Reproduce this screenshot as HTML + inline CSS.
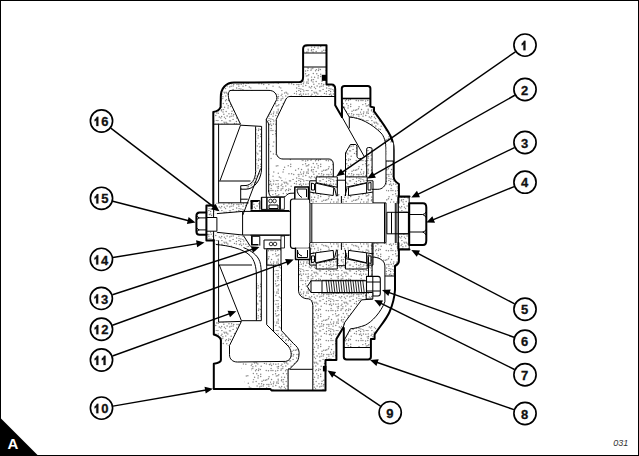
<!DOCTYPE html>
<html><head><meta charset="utf-8"><style>
html,body{margin:0;padding:0;background:#fff;}
body{width:639px;height:456px;overflow:hidden;}
svg{display:block;}
.ld{stroke:#000;stroke-width:1.45;fill:none;}
.ah{fill:#000;stroke:none;}
.cc{fill:#fff;stroke:#000;stroke-width:1.65;}
.ct{font-family:"Liberation Sans",sans-serif;font-weight:bold;font-size:13px;fill:#111;stroke:#111;stroke-width:0.3;}
.one{fill:#111;stroke:#111;stroke-width:0.2;}
.o{fill:none;stroke:#000;stroke-width:2;stroke-linejoin:round;stroke-linecap:round;}
.t{fill:none;stroke:#000;stroke-width:1;stroke-linejoin:round;}
.s{fill:url(#dots);stroke:none;}
.sl{fill:url(#dotsl);stroke:none;}
.w{fill:#fff;stroke:none;}
.b{fill:#000;stroke:none;}
.wt{fill:#fff;stroke:#000;stroke-width:1;stroke-linejoin:round;}
</style></head><body>
<svg width="639" height="456" viewBox="0 0 639 456">
<defs>
<pattern id="dots" width="30" height="30" patternUnits="userSpaceOnUse"><rect width="30" height="30" fill="#fff"/><g fill="#828282"><circle cx="0.59" cy="1.54" r="0.72"/><circle cx="3.82" cy="0.99" r="0.72"/><circle cx="6.26" cy="0.37" r="0.72"/><circle cx="7.93" cy="0.47" r="0.72"/><circle cx="11.87" cy="0.54" r="0.72"/><circle cx="13.99" cy="2.10" r="0.72"/><circle cx="16.05" cy="2.15" r="0.72"/><circle cx="19.43" cy="0.85" r="0.72"/><circle cx="20.52" cy="0.89" r="0.72"/><circle cx="26.41" cy="1.51" r="0.72"/><circle cx="28.84" cy="0.42" r="0.72"/><circle cx="0.69" cy="4.09" r="0.72"/><circle cx="3.40" cy="3.91" r="0.72"/><circle cx="5.87" cy="4.31" r="0.72"/><circle cx="8.26" cy="3.89" r="0.72"/><circle cx="11.96" cy="4.19" r="0.72"/><circle cx="14.66" cy="3.02" r="0.72"/><circle cx="16.74" cy="3.09" r="0.72"/><circle cx="17.87" cy="4.07" r="0.72"/><circle cx="24.46" cy="3.40" r="0.72"/><circle cx="26.43" cy="3.90" r="0.72"/><circle cx="29.40" cy="4.59" r="0.72"/><circle cx="1.56" cy="5.42" r="0.72"/><circle cx="7.19" cy="6.86" r="0.72"/><circle cx="8.53" cy="6.57" r="0.72"/><circle cx="11.18" cy="5.62" r="0.72"/><circle cx="12.91" cy="6.76" r="0.72"/><circle cx="15.77" cy="6.04" r="0.72"/><circle cx="21.15" cy="6.34" r="0.72"/><circle cx="1.09" cy="8.48" r="0.72"/><circle cx="8.13" cy="8.24" r="0.72"/><circle cx="11.22" cy="8.92" r="0.72"/><circle cx="12.81" cy="8.60" r="0.72"/><circle cx="16.38" cy="9.61" r="0.72"/><circle cx="18.78" cy="8.97" r="0.72"/><circle cx="20.40" cy="9.51" r="0.72"/><circle cx="1.06" cy="10.50" r="0.72"/><circle cx="2.92" cy="10.43" r="0.72"/><circle cx="5.61" cy="10.95" r="0.72"/><circle cx="7.80" cy="10.59" r="0.72"/><circle cx="10.99" cy="10.35" r="0.72"/><circle cx="15.58" cy="10.78" r="0.72"/><circle cx="18.49" cy="10.53" r="0.72"/><circle cx="26.22" cy="10.46" r="0.72"/><circle cx="28.45" cy="10.80" r="0.72"/><circle cx="2.84" cy="14.61" r="0.72"/><circle cx="5.58" cy="13.83" r="0.72"/><circle cx="8.80" cy="14.66" r="0.72"/><circle cx="13.30" cy="13.50" r="0.72"/><circle cx="16.77" cy="13.81" r="0.72"/><circle cx="20.72" cy="14.34" r="0.72"/><circle cx="6.28" cy="15.98" r="0.72"/><circle cx="7.85" cy="15.83" r="0.72"/><circle cx="11.62" cy="17.12" r="0.72"/><circle cx="14.58" cy="17.18" r="0.72"/><circle cx="18.22" cy="15.73" r="0.72"/><circle cx="20.69" cy="16.49" r="0.72"/><circle cx="29.04" cy="16.82" r="0.72"/><circle cx="1.56" cy="19.53" r="0.72"/><circle cx="8.14" cy="19.30" r="0.72"/><circle cx="11.82" cy="19.65" r="0.72"/><circle cx="13.56" cy="19.60" r="0.72"/><circle cx="18.04" cy="18.09" r="0.72"/><circle cx="26.87" cy="19.66" r="0.72"/><circle cx="28.47" cy="18.84" r="0.72"/><circle cx="0.33" cy="22.14" r="0.72"/><circle cx="3.80" cy="22.07" r="0.72"/><circle cx="6.96" cy="21.87" r="0.72"/><circle cx="8.28" cy="20.86" r="0.72"/><circle cx="11.41" cy="20.79" r="0.72"/><circle cx="13.05" cy="22.03" r="0.72"/><circle cx="16.17" cy="21.41" r="0.72"/><circle cx="22.04" cy="21.25" r="0.72"/><circle cx="23.79" cy="20.34" r="0.72"/><circle cx="25.65" cy="20.31" r="0.72"/><circle cx="1.20" cy="24.18" r="0.72"/><circle cx="3.42" cy="23.78" r="0.72"/><circle cx="6.79" cy="23.00" r="0.72"/><circle cx="8.27" cy="23.33" r="0.72"/><circle cx="13.87" cy="24.24" r="0.72"/><circle cx="18.96" cy="23.76" r="0.72"/><circle cx="21.62" cy="23.66" r="0.72"/><circle cx="23.71" cy="24.59" r="0.72"/><circle cx="26.97" cy="24.59" r="0.72"/><circle cx="28.86" cy="24.59" r="0.72"/><circle cx="3.03" cy="26.14" r="0.72"/><circle cx="5.76" cy="25.44" r="0.72"/><circle cx="9.29" cy="27.00" r="0.72"/><circle cx="11.66" cy="26.55" r="0.72"/><circle cx="14.48" cy="27.14" r="0.72"/><circle cx="17.11" cy="26.06" r="0.72"/><circle cx="19.68" cy="26.88" r="0.72"/><circle cx="21.12" cy="26.28" r="0.72"/><circle cx="23.17" cy="25.91" r="0.72"/><circle cx="28.85" cy="26.14" r="0.72"/><circle cx="0.93" cy="28.99" r="0.72"/><circle cx="2.92" cy="29.67" r="0.72"/><circle cx="10.80" cy="27.88" r="0.72"/><circle cx="15.55" cy="28.60" r="0.72"/><circle cx="23.08" cy="29.55" r="0.72"/><circle cx="26.63" cy="27.97" r="0.72"/><circle cx="29.11" cy="28.61" r="0.72"/></g></pattern><pattern id="dotsl" width="30" height="30" patternUnits="userSpaceOnUse"><rect width="30" height="30" fill="#fff"/><g fill="#888"><circle cx="0.59" cy="1.54" r="0.72"/><circle cx="11.87" cy="0.54" r="0.72"/><circle cx="16.05" cy="2.15" r="0.72"/><circle cx="3.40" cy="3.91" r="0.72"/><circle cx="5.87" cy="4.31" r="0.72"/><circle cx="11.96" cy="4.19" r="0.72"/><circle cx="14.66" cy="3.02" r="0.72"/><circle cx="16.74" cy="3.09" r="0.72"/><circle cx="17.87" cy="4.07" r="0.72"/><circle cx="24.46" cy="3.40" r="0.72"/><circle cx="11.18" cy="5.62" r="0.72"/><circle cx="15.77" cy="6.04" r="0.72"/><circle cx="21.15" cy="6.34" r="0.72"/><circle cx="1.09" cy="8.48" r="0.72"/><circle cx="12.81" cy="8.60" r="0.72"/><circle cx="20.40" cy="9.51" r="0.72"/><circle cx="20.72" cy="14.34" r="0.72"/><circle cx="6.28" cy="15.98" r="0.72"/><circle cx="7.85" cy="15.83" r="0.72"/><circle cx="14.58" cy="17.18" r="0.72"/><circle cx="18.22" cy="15.73" r="0.72"/><circle cx="20.69" cy="16.49" r="0.72"/><circle cx="13.56" cy="19.60" r="0.72"/><circle cx="28.47" cy="18.84" r="0.72"/><circle cx="3.80" cy="22.07" r="0.72"/><circle cx="13.05" cy="22.03" r="0.72"/><circle cx="25.65" cy="20.31" r="0.72"/><circle cx="8.27" cy="23.33" r="0.72"/><circle cx="18.96" cy="23.76" r="0.72"/><circle cx="21.62" cy="23.66" r="0.72"/><circle cx="23.71" cy="24.59" r="0.72"/><circle cx="28.86" cy="24.59" r="0.72"/><circle cx="3.03" cy="26.14" r="0.72"/><circle cx="9.29" cy="27.00" r="0.72"/><circle cx="10.80" cy="27.88" r="0.72"/><circle cx="26.63" cy="27.97" r="0.72"/></g></pattern>
</defs>
<rect x="0" y="0" width="639" height="456" fill="#fff"/>
<!-- ===== STIPPLE FILLS (upper) ===== -->
<path class="s" d="M213.3,124.2 L213.3,112 C216,111.5 219.5,110.5 220.6,107 L220.8,97 C220.8,88 226,82.7 234,82.6 L299.5,82.1 C302,82 303.1,80 303.1,77 L303.1,67 L326.5,67 L326.5,84.5 L331.5,84.5 C334,84.5 335.2,86 335.2,89 L335.2,96.5 L290,96.5 C288,96.5 287,97.5 286,99 L276.3,119.3 L276.3,152 C276.3,156 279,159 283,159 L329,159 C331.5,159 333.3,161 333.3,164 L333.3,177 L315.6,177 L315.6,180.6 L308.8,180.6 L308.8,187.5 L295,187.5 L295,193.1 L289,193.1 C286,193.1 285,196.9 283.8,196.9 L271.3,196.9 C269,196.9 268.7,194 268.7,192 L268.7,125 C268.7,122 266.3,121 266.3,119.3 L276.7,99.5 C277.5,94 274,90.4 269,90.4 L231,90.4 C228,90.4 227.5,96 229.5,101 L240.5,124.2 Z"/>
<path class="s" d="M303.1,53 L303.1,49 C303.1,46.5 304.5,45.2 307,45.2 L326.5,45.2 L326.5,53 Z"/>
<path class="s" d="M256.5,126.4 L261.6,126.4 L261.6,168 C261.6,180 254,189.2 246,189.2 L240.7,189.2 L240.7,185.7 L246,185.5 C252,185 256.5,178 256.5,170 Z"/>
<path class="s" d="M213.6,202.8 L248.5,202.8 L243.5,212 L216.9,213.6 L213.6,213.6 Z"/>
<path class="s" d="M341.8,98.5 L370.4,98.5 L370.4,106.6 L374,107.5 L374,111.3 C379,118 386.5,128 390.5,136 C392.5,140 393.7,145 393.7,150 L393.7,176.8 Q393.7,181 398.9,184 L398.9,203 L386,203 L386,150 C386,142 384,136 381,133 C372,124 360,117.5 349.3,117.1 L342.7,106.6 L341.8,106 Z"/>
<path class="s" d="M345.5,177 L345.5,153 L350.4,144.5 L355.8,144.5 L357,146 L357,156.6 C357.5,158.5 359,159 361,158.5 L363.6,156 L366.7,160 L366.7,177 Z"/>
<path class="s" d="M366.7,177 L366.7,149 Q366.7,147.5 368.5,147.5 L370.3,147.5 Q372.1,147.5 372.1,149 L372.1,177 Z"/>
<!-- upper bearing cups & cones -->
<path class="s" d="M315.6,177 L337.6,177 L337.6,186 L315.6,181 Z"/>
<path class="s" d="M345.4,177 L367.3,177 L367.3,181 L345.4,186 Z"/>
<path class="s" d="M309.4,194 L372,194 L372,202.9 L309.4,202.9 Z"/>
<!-- washers -->
<path class="s" d="M206.4,205.4 L213.6,205.4 L213.6,217.5 L206.4,217.5 Z M206.4,231.2 L213.6,231.2 L213.6,240.5 L206.4,240.5 Z"/>
<path class="s" d="M398.4,196.9 L409.2,196.9 L409.2,212.3 L398.4,212.3 Z M398.4,233.8 L409.2,233.8 L409.2,249.1 L398.4,249.1 Z"/>

<path class="sl" d="M248,83.2 L296,83.2 L296,96.2 L286.5,98.5 L276,92.5 C274,91 271.5,90.4 269,90.4 L248,90.4 Z"/>
<path class="sl" d="M268.7,135 L276.3,135 L276.3,152 C276.3,156 279,159 283,159 L302,159 C300,166 299,172 296,178 L268.7,180 Z"/>
<!-- ===== STIPPLE FILLS (lower) ===== -->
<path class="s" d="M213.6,233.6 L243.5,235.7 L250.5,246.5 C244,248.5 236,248 228,246.2 C224,245.4 220,244.7 216,244.5 L213.6,244.5 Z"/>
<path class="s" d="M256.4,320.7 L261.3,320.7 L261.3,282 L256.4,282 Z"/>
<path class="s" d="M266.8,248.8 L281,248.8 L281,265.2 L266.8,265.2 Z"/>
<path class="sl" d="M240,362 L250,362 C251,370 254,380 257,389.7 L246,389.5 C244,380 242,370 240,362 Z"/>
<path class="s" d="M213.8,322.1 L241.4,321.4 L229.5,345.5 L220.9,345.5 L220.9,340.3 C220.9,337 216,335 213.8,334.5 Z"/>
<path class="s" d="M250,362 L285.7,361.4 C289,361 291.2,358 291.2,354.8 C291.2,351.5 290.3,349 288.9,346.9 L273.4,331 L273.4,265.2 L281.5,265.2 L281.5,330.6 L293.6,343.7 C296.5,346 299.1,349 299.1,352.5 C299.1,356 298.5,359 297.5,361 L289.6,369 L288.1,369 L288.1,390.5 L257,389.7 C254,380 251,370 250,362 Z"/>
<path class="s" d="M298.5,259.7 L298.5,290 C298.5,295 302,298.8 308.4,298.8 C311,299 312.8,302 312.8,305.4 L312.8,390.5 L325.5,390.5 L325.5,360 L336.4,360 L336.4,339 L343,328 L344.8,322.3 L361.6,299.9 L366.2,299 L366.2,292.5 L372.8,292.5 L372.8,257.1 L372,252 L310,252 L310,259.7 Z"/>
<path class="s" d="M372.8,257.1 C378,257.1 384.9,260 384.9,266 L384.9,276 L395,276 L395,266 Q398.9,264 398.9,261 L398.9,243 L372,243 Z"/>
<path class="s" d="M350.4,328.8 L343.8,341 L343.8,347.5 L370.9,347.5 L370.9,339.1 L374.6,339.1 L374.6,334.4 C376,332 377,330 378,328 C372,324 365,326 350.4,328.8 Z"/>
<!-- ===== HEAVY OUTLINES ===== -->
<path class="o" d="M213.3,206 L213.3,112 C216,111.5 219.5,110.5 220.6,107 L220.8,97 C220.8,88 226,82.7 234,82.6 L299.5,82.1 C302,82 303.1,80 303.1,77 L303.1,49 C303.1,46.5 304.5,45.2 307,45.2 L326.5,45.2 L326.5,84.5 L331.5,84.5 C334,84.5 335.2,86 335.2,89 L335.2,105.3 L342,117"/>
<path class="o" d="M342,117 L341.8,88.5 Q341.8,85.9 344.5,85.9 L367.8,85.9 Q370.4,85.9 370.4,88.5 L370.4,106.6 L374,107.5 L374,111.3 C379,118 386.5,128 390.5,136 C392.5,140 393.7,145 393.7,150 L393.7,176.8 Q393.7,181 398.9,184 L398.9,196.6 L409.5,196.6"/>
<path class="o" d="M213.8,240 L213.8,334.5 C216,335 220.9,337 220.9,340.3 L220.9,360 C220.9,362 217,363.3 213.8,363.8 L213.8,389 L270.3,389 L271.5,390.5 L325.5,390.5 L325.5,360 L336.4,360 L336.4,339 L343,328"/>
<path class="o" d="M343.8,328 L343.8,356.8 Q343.8,359.6 346.6,359.6 L368.1,359.6 Q370.9,359.6 370.9,356.8 L370.9,339.1 L374.6,339.1 L374.6,334.4 C380,326 386,320 389.5,312 C392.5,305 394.5,298 395,290 L395,266 Q398.9,264 398.9,261 L398.9,249.6 L409.5,249.6"/>
<rect x="321.8" y="74.8" width="4.4" height="6" class="b"/>
<rect x="322.9" y="365.9" width="3.5" height="5.5" class="b"/>
<!-- ===== THIN LINES upper-left housing ===== -->
<path class="t" d="M231,90.4 L269,90.4 C274,90.4 277.5,94 276.7,99.5 L266.3,119.3 L266.3,197"/>
<path class="t" d="M231,90.4 C228,90.4 227.5,96 229.5,101 L240.5,124.2 L213.3,124.2"/>
<path class="t" d="M240.5,125.2 L261.6,126.4 M240.5,125.2 L220,180.7 M218.6,124.2 L218.6,202.8 M218.6,181 L250.5,181"/>
<path class="t" d="M255.6,126.4 L255.6,171.4 C255.6,180 251,185 246,185.5 L240.7,185.7 L240.7,202.8 M240.7,189.2 L246,189.2 C254,189.2 261.6,180 261.6,168 L261.6,126.4"/>
<path class="t" d="M240.7,199.2 L247.8,199.2 M218.6,202.8 L248.5,202.8 M260.6,168.5 L242.8,215"/>
<path class="t" d="M268.7,192 L268.7,125 C268.7,122 266.3,121 266.3,119.3"/>
<path class="t" d="M335.2,96.5 L290,96.5 C288,96.5 287,97.5 286,99 L276.3,119.3 L276.3,152 C276.3,156 279,159 283,159 L329,159 C331.5,159 333.3,161 333.3,164 L333.3,177"/>
<path class="t" d="M303.1,53 L326.5,53 M303.1,67 L326.5,67"/>
<!-- upper right housing -->
<path class="t" style="stroke-width:1.6" d="M341.8,98.5 L370.4,98.5"/>
<path class="t" d="M342.7,106 L349.3,117.1 L349.3,128.3 M342,117 L364.5,157"/>
<path class="t" d="M349.3,117.1 C360,117.5 372,124 381,133 C384,136 386,142 386,150 L386,181 C386,186 382,189.3 377.9,189.3 L372,189.3"/>
<path class="t" d="M345.5,177 L345.5,153 L350.4,144.5 L355.8,144.5 L357,146 L357,156.6 C357.5,158.5 359,159 361,158.5"/>
<path class="t" d="M366.7,177 L366.7,149 Q366.7,147.5 368.5,147.5 L370.3,147.5 Q372.1,147.5 372.1,149 L372.1,177"/>
<rect x="386.5" y="142.5" width="6.7" height="18.5" class="w"/>
<path class="t" d="M386,161 L393.7,161"/>
<!-- ===== SHAFT / HUB ===== -->
<path class="t" d="M216.9,213.6 L242.6,211.4 L242.6,235 L216.9,232.3 M242.6,211.4 L290.5,211.4 M242.6,235 L290.5,235"/>
<rect x="290.5" y="199" width="19.9" height="49.3" rx="2.5" class="wt" style="stroke-width:1.2"/>
<rect x="310" y="202.9" width="76" height="39.9" class="wt" style="stroke-width:1"/>
<path class="t" d="M311.8,202.9 L311.8,242.8 M384.5,202.9 L384.5,242.8"/>
<rect x="386.9" y="212.3" width="21.5" height="21.5" class="wt" style="stroke-width:1"/>
<path class="t" d="M391.5,212.3 L391.5,233.8 M395.3,203 L395.3,243 M396.9,203 L396.9,243"/>
<path class="o" style="fill:#fff" d="M409.2,203.3 L423,203.3 Q426.3,203.3 426.3,207.5 L426.3,240.5 Q426.3,245 423,245 L409.2,245 Z"/>
<path class="t" d="M409.2,214.5 L422.5,214.5 Q425,214.5 426,212 M422.5,214.5 Q425,215 426,217.5 M409.2,232 L422.5,232 Q425,232 426,229.5 M422.5,232 Q425,232.5 426,235"/>
<path class="o" d="M398.4,196.9 L398.4,203 M398.4,243 L398.4,249.1"/>
<path class="t" d="M398.4,196.9 L409.2,196.9 L409.2,249.1 L398.4,249.1 Z M398.4,212.3 L409.2,212.3 M398.4,233.8 L409.2,233.8"/>
<!-- left nut/washer -->
<path class="o" style="fill:#fff" d="M206.4,212.5 L199.5,212.5 Q196.4,212.5 196.4,216 L196.4,231.3 Q196.4,234.8 199.5,234.8 L206.4,234.8 Z"/>
<path class="t" d="M206.4,217.9 L199.5,217.9 Q197.5,218 196.6,220 M199.5,217.9 Q197.5,217.5 196.6,215.5 M206.4,229.9 L199.5,229.9 Q197.5,230 196.6,232 M199.5,229.9 Q197.5,229.6 196.6,227.6"/>
<path class="o" d="M206.4,205.4 L206.4,212 M206.4,234.5 L206.4,240.5 M213.6,205.4 L206.4,205.4 M213.6,240.5 L206.4,240.5"/>
<path class="t" d="M206.4,217.5 L216.9,217.5 L216.9,231.2 L206.4,231.2 M213.6,205.4 L213.6,217.5 M213.6,231.2 L213.6,240.5"/>
<!-- ===== BEARINGS ===== -->
<g id="brg">
<path class="s" d="M309.7,203 L309.7,192 L315.6,193.1 L333.2,195.5 L341.4,196 L348.5,195.5 L366.6,193.1 L373,192 L373,203 Z"/>
<path class="s" d="M316.2,176.9 L337.3,176.9 L337.3,187.3 L316.2,182.6 Z M345.5,176.9 L367.2,176.9 L367.2,182.6 L345.5,187.3 Z"/>
<path class="t" d="M309.7,203 L309.7,180.8 L316.2,180.8 M367.2,180.8 L373,180.8 L373,203"/>
<path class="t" d="M316.2,176.9 L337.3,176.9 L337.3,187.3 L316.2,182.6 Z M345.5,176.9 L367.2,176.9 L367.2,182.6 L345.5,187.3 Z"/>
<path class="wt" d="M315.6,183.1 L333.8,187.3 L333.2,195.5 L315.6,193.1 Z M348.5,187.3 L366.6,183.1 L366.6,193.1 L348.5,195.5 Z"/>
<path class="t" d="M337.3,180.2 L345.5,180.2 L345.5,196 M337.3,180.2 L337.3,196 M341.4,196 L341.4,203"/>
<path class="t" d="M309.7,192 L315.6,193.1 M366.6,193.1 L373,192"/>
<path class="t" d="M334.5,188 L336.5,196 M347,188 L345,196 M311.5,183 L314.5,184 L314.5,190 L311.5,190 Z M368,183 L371,182.5 L371,190 L368,190 Z"/>
</g>
<use href="#brg" transform="matrix(1,0,0,-1,0,445.9)"/>
<!-- ===== SEALS upper ===== -->
<rect x="294.8" y="187" width="13.7" height="11.4" class="w"/>
<path class="o" style="stroke-width:1.5" d="M294.8,198.4 L294.8,187 L308.5,187 L308.5,198.4"/>
<path class="t" d="M297,189 L306.5,189 L306.5,197 M297,189 C297,193 299,196 302,197.5"/>
<rect x="280" y="197.3" width="4.4" height="12" class="wt" style="stroke-width:0.8"/>
<rect x="266.9" y="197.3" width="13" height="12" class="wt" style="stroke-width:1"/>
<circle cx="270.5" cy="201" r="1.8" class="wt" style="stroke-width:0.8"/>
<circle cx="274.5" cy="201" r="1.8" class="wt" style="stroke-width:0.8"/>
<path class="t" d="M269,205 L278,205 L278,208.5 L269,208.5 Z M261.4,197.3 L266.9,197.3 L266.9,209.4 L261.4,209.4 Z"/>
<path class="s" d="M251,200.5 L259.8,200.5 L259.8,209.6 L251,209.6 Z"/>
<path class="t" d="M251,209.6 L251,200.5 L259.8,200.5 L259.8,209.6"/>
<path class="o" style="stroke-width:1.5" d="M251,201 L256.5,201"/>
<path class="t" d="M268.7,190 C268.7,194.5 270,196.9 272.5,196.9 L284,196.9 C286,196.9 287,193.5 290,193.3 L295,193.1"/>
<path class="t" style="stroke-width:1.3" d="M261.6,197.3 L261.6,209.4 M280,197.3 L280,209.4 M250.5,210.6 L289.3,210.6"/>
<path class="b" d="M251,200.3 L258.5,200.3 L258.5,202 L252.7,202 L252.7,209.6 L251,209.6 Z"/>
<path class="b" d="M251,245.6 L258.5,245.6 L258.5,243.9 L252.7,243.9 L252.7,236.3 L251,236.3 Z"/>
<path class="t" d="M251,236.3 L259.8,236.3 L259.8,245.6 M250.5,235.3 L289.3,235.3"/>
<!-- ===== SEALS lower ===== -->
<rect x="295.5" y="248.3" width="14.5" height="11.2" class="w"/>
<path class="o" style="stroke-width:1.5" d="M295.5,248.3 L295.5,259.5 L310,259.5 L310,248.3"/>
<path class="t" d="M297.5,250 L297.5,257.5 L307.5,257.5 L307.5,250 M297.5,250 C297.5,253 299,255 302,256"/>
<rect x="264" y="240" width="17" height="8.8" class="wt" style="stroke-width:1"/>
<circle cx="271" cy="244" r="1.8" class="wt" style="stroke-width:0.8"/>
<circle cx="275" cy="244" r="1.8" class="wt" style="stroke-width:0.8"/>
<rect x="281" y="236" width="3.5" height="12" class="wt" style="stroke-width:0.8"/>
<path class="t" d="M266.8,248.8 L281,248.8 L281,265.2 L266.8,265.2 Z"/>
<!-- ===== THIN LINES lower ===== -->
<path class="t" d="M218.6,240.5 L218.6,322.1 L241.4,321.4 M218.6,265 L252,265 M219.3,265 L241.4,320.7 L261.3,320.7"/>
<path class="t" d="M241.4,321.4 L229.5,345.5 L229.5,354.7 C229.5,359 232.5,362 237.4,362 L285.7,361.4 C289,361 291.2,358 291.2,354.8 C291.2,351.5 290.3,349 288.9,346.9 L266.7,324.7 L266.7,250"/>
<path class="t" d="M273.4,265.2 L273.4,331 M281.5,265.2 L281.5,330.6 L293.6,343.7 C296.5,346 299.1,349 299.1,352.5 C299.1,356 298.5,359 297.5,361 L289.6,369 L288.1,369 L288.1,390.5 M289.6,369.3 L312.8,369.3"/>

<path class="t" d="M243.5,235.7 L250.5,246.5 M216,244.5 C228,245.5 243,248.5 250,255.5 C254.5,260 256.4,267 256.4,276 L256.4,320.7 M243.5,247.6 C251,250.5 257.5,255 259.8,261.5 C261,265 261.3,270 261.3,275 L261.3,320.7"/>
<path class="t" d="M298.5,259.7 L298.5,290 C298.5,295 302,298.8 308.4,298.8 C311,299 312.8,302 312.8,305.4 L312.8,390.5"/>
<path class="t" d="M343,328 L344.8,322.3 L361.6,299.9 L372.8,299 M343.8,347.5 L370.9,347.5"/>
<path class="t" d="M372.8,257.1 C378,257.1 384.9,260 384.9,266 L384.9,301.8 C381,312 372,322 365.3,325.1 C360,327 355,328.5 350.4,328.8 L343.8,341"/>
<path class="t" d="M384.9,276 L395,276"/>
<!-- bolt -->
<path class="wt" style="stroke-width:1" d="M311,280.8 L366.5,280.8 L366.5,292.5 L311,292.5 L307.3,286.6 Z"/>
<path class="t" d="M311,280.8 L311,292.5 M322,280.8 L322,292.5"/>
<path class="t" style="stroke-width:0.85" d="M326.00,280.3 L327.50,292.8 M328.45,280.3 L329.95,292.8 M330.90,280.3 L332.40,292.8 M333.35,280.3 L334.85,292.8 M335.80,280.3 L337.30,292.8 M338.25,280.3 L339.75,292.8 M340.70,280.3 L342.20,292.8 M343.15,280.3 L344.65,292.8 M345.60,280.3 L347.10,292.8 M348.05,280.3 L349.55,292.8 M350.50,280.3 L352.00,292.8 M352.95,280.3 L354.45,292.8 M355.40,280.3 L356.90,292.8 M357.85,280.3 L359.35,292.8 M360.30,280.3 L361.80,292.8 M362.75,280.3 L364.25,292.8"/>
<path class="t" style="stroke-width:0.8" d="M322,280.3 L365,280.3 M322,293 L365,293"/>
<path class="wt" style="stroke-width:1.1" d="M366.5,276.4 L378,276.4 Q380.3,276.4 380.3,278.8 L380.3,293.6 Q380.3,296 378,296 L366.5,296 Z"/>
<path class="t" d="M372.8,276.4 L372.8,296 M366.5,282 L380,282 M366.5,291 L380,291"/>
<path class="s" d="M366.2,292.5 L372.8,292.5 L372.8,299 L366.2,299 Z"/>
<path class="t" d="M366.2,292.5 L372.8,292.5 L372.8,299 L366.2,299 Z M368.5,257 L368.5,276.4 M372.1,243 L372.1,276.4"/>

<line x1="515.39" y1="51.78" x2="342.05" y2="172.3" class="ld"/>
<path d="M336.3 176.3L340.87 168.86L344.87 174.61Z" class="ah"/>
<circle cx="525" cy="45.1" r="11.1" class="cc"/>
<path class="one" d="M523.39,50.2 L525.49,50.2 L525.49,40.85 L523.89,40.85 C523.49,42.2 522.59,43.1 521.69,43.5 L521.69,45.4 C522.29,45.2 522.89,44.8 523.39,44.3 Z"/>
<line x1="514.81" y1="95.25" x2="373.3" y2="175.16" class="ld"/>
<path d="M367.2 178.6L372.45 171.62L375.89 177.71Z" class="ah"/>
<circle cx="525" cy="89.5" r="11.1" class="cc"/>
<text x="521.04" y="94.6" class="ct">2</text>
<line x1="514.47" y1="147.59" x2="417.6" y2="194.45" class="ld"/>
<path d="M411.3 197.5L416.98 190.87L420.03 197.17Z" class="ah"/>
<circle cx="525" cy="142.5" r="11.1" class="cc"/>
<text x="521.04" y="147.6" class="ct">3</text>
<line x1="514.17" y1="186.62" x2="432.78" y2="219.85" class="ld"/>
<path d="M426.3 222.5L432.38 216.24L435.03 222.72Z" class="ah"/>
<circle cx="525" cy="182.2" r="11.1" class="cc"/>
<text x="521.04" y="187.3" class="ct">4</text>
<line x1="514.63" y1="303.89" x2="417.51" y2="253.24" class="ld"/>
<path d="M411.3 250L420.01 250.6L416.77 256.8Z" class="ah"/>
<circle cx="525" cy="309.3" r="11.1" class="cc"/>
<text x="521.04" y="314.4" class="ct">5</text>
<line x1="513.98" y1="337.26" x2="388.59" y2="292.36" class="ld"/>
<path d="M382 290L390.71 289.4L388.35 295.99Z" class="ah"/>
<circle cx="525" cy="341.2" r="11.1" class="cc"/>
<text x="521.04" y="346.3" class="ct">6</text>
<line x1="514.52" y1="369.5" x2="380.57" y2="303.11" class="ld"/>
<path d="M374.3 300L383.02 300.42L379.91 306.69Z" class="ah"/>
<circle cx="525" cy="374.7" r="11.1" class="cc"/>
<text x="521.04" y="379.8" class="ct">7</text>
<line x1="513.94" y1="409.68" x2="376.62" y2="362.28" class="ld"/>
<path d="M370 360L378.7 359.3L376.42 365.92Z" class="ah"/>
<circle cx="525" cy="413.5" r="11.1" class="cc"/>
<text x="521.04" y="418.6" class="ct">8</text>
<line x1="380.49" y1="406.08" x2="333.31" y2="374.4" class="ld"/>
<path d="M327.5 370.5L336.09 372.05L332.19 377.87Z" class="ah"/>
<circle cx="390.2" cy="412.6" r="11.1" class="cc"/>
<text x="386.24" y="417.7" class="ct">9</text>
<line x1="113.03" y1="406.1" x2="206.1" y2="389.99" class="ld"/>
<path d="M213 388.8L205.71 393.61L204.52 386.72Z" class="ah"/>
<circle cx="101.5" cy="408.1" r="11.1" class="cc"/>
<path class="one" d="M96.27,413.2 L98.37,413.2 L98.37,403.85 L96.77,403.85 C96.37,405.2 95.47,406.1 94.57,406.5 L94.57,408.4 C95.17,408.2 95.77,407.8 96.27,407.3 Z"/>
<text x="101.15" y="413.2" class="ct">0</text>
<line x1="112.5" y1="356.02" x2="229.72" y2="313.68" class="ld"/>
<path d="M236.3 311.3L229.97 317.31L227.59 310.73Z" class="ah"/>
<circle cx="101.5" cy="360" r="11.1" class="cc"/>
<path class="one" d="M96.27,365.1 L98.37,365.1 L98.37,355.75 L96.77,355.75 C96.37,357.1 95.47,358 94.57,358.4 L94.57,360.3 C95.17,360.1 95.77,359.7 96.27,359.2 Z"/>
<path class="one" d="M103.5,365.1 L105.6,365.1 L105.6,355.75 L104,355.75 C103.6,357.1 102.7,358 101.8,358.4 L101.8,360.3 C102.4,360.1 103,359.7 103.5,359.2 Z"/>
<line x1="112.5" y1="325.21" x2="287.22" y2="261.89" class="ld"/>
<path d="M293.8 259.5L287.47 265.52L285.09 258.94Z" class="ah"/>
<circle cx="101.5" cy="329.2" r="11.1" class="cc"/>
<path class="one" d="M96.27,334.3 L98.37,334.3 L98.37,324.95 L96.77,324.95 C96.37,326.3 95.47,327.2 94.57,327.6 L94.57,329.5 C95.17,329.3 95.77,328.9 96.27,328.4 Z"/>
<text x="101.15" y="334.3" class="ct">2</text>
<line x1="112.43" y1="294.78" x2="252.84" y2="249.16" class="ld"/>
<path d="M259.5 247L252.97 252.8L250.81 246.14Z" class="ah"/>
<circle cx="101.3" cy="298.4" r="11.1" class="cc"/>
<path class="one" d="M96.07,303.5 L98.17,303.5 L98.17,294.15 L96.57,294.15 C96.17,295.5 95.27,296.4 94.37,296.8 L94.37,298.7 C94.97,298.5 95.57,298.1 96.07,297.6 Z"/>
<text x="100.95" y="303.5" class="ct">3</text>
<line x1="112.95" y1="257.51" x2="197.59" y2="243.63" class="ld"/>
<path d="M204.5 242.5L197.17 247.25L196.04 240.34Z" class="ah"/>
<circle cx="101.4" cy="259.4" r="11.1" class="cc"/>
<path class="one" d="M96.17,264.5 L98.27,264.5 L98.27,255.15 L96.67,255.15 C96.27,256.5 95.37,257.4 94.47,257.8 L94.47,259.7 C95.07,259.5 95.67,259.1 96.17,258.6 Z"/>
<text x="101.05" y="264.5" class="ct">4</text>
<line x1="112.83" y1="201.22" x2="188.72" y2="220.75" class="ld"/>
<path d="M195.5 222.5L186.88 223.89L188.63 217.12Z" class="ah"/>
<circle cx="101.5" cy="198.3" r="11.1" class="cc"/>
<path class="one" d="M96.27,203.4 L98.37,203.4 L98.37,194.05 L96.77,194.05 C96.37,195.4 95.47,196.3 94.57,196.7 L94.57,198.6 C95.17,198.4 95.77,198 96.27,197.5 Z"/>
<text x="101.15" y="203.4" class="ct">5</text>
<line x1="110.79" y1="128.11" x2="213.94" y2="207.05" class="ld"/>
<path d="M219.5 211.3L211.02 209.22L215.27 203.66Z" class="ah"/>
<circle cx="101.5" cy="121" r="11.1" class="cc"/>
<path class="one" d="M96.27,126.1 L98.37,126.1 L98.37,116.75 L96.77,116.75 C96.37,118.1 95.47,119 94.57,119.4 L94.57,121.3 C95.17,121.1 95.77,120.7 96.27,120.2 Z"/>
<text x="101.15" y="126.1" class="ct">6</text>
<rect x="0.5" y="0.5" width="638" height="455" fill="none" stroke="#000" stroke-width="1"/>
<path d="M0 417.5L38.5 456L0 456Z" fill="#000"/>
<text x="7.5" y="449" style="font-family:'Liberation Sans',sans-serif;font-weight:bold;font-size:15px;fill:#fff;">A</text>
<text x="613.3" y="445.8" style="font-family:'Liberation Sans',sans-serif;font-style:italic;font-size:9px;fill:#333;">031</text>
</svg>
</body></html>
